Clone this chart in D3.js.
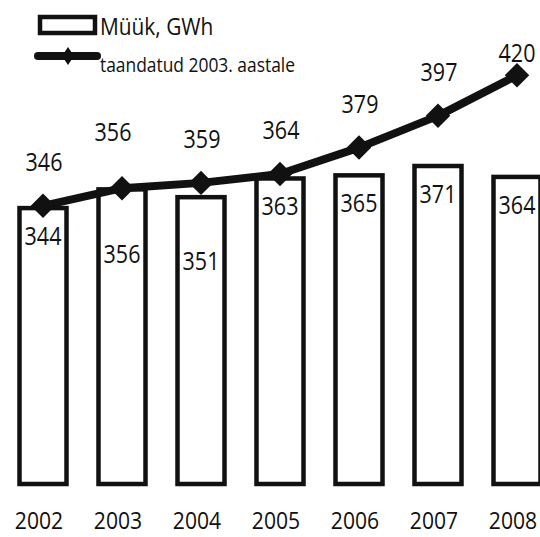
<!DOCTYPE html>
<html>
<head>
<meta charset="utf-8">
<script src="https://cdn.jsdelivr.net/npm/d3@7/dist/d3.min.js"></script>
<style>
  body { margin: 0; background: #fff; }
  svg { display: block; }
  text { font-family: "Open Sans", sans-serif; fill: #111; }
</style>
</head>
<body>
<svg id="chart" width="540" height="537"></svg>
<script>
// Electricity sales, GWh, and the same normalised to 2003 weather
const years = ["2002", "2003", "2004", "2005", "2006", "2007", "2008"];
const sales = [344, 356, 351, 363, 365, 371, 364];
const adjusted = [346, 356, 359, 364, 379, 397, 420];
const legendLabels = ["Müük, GWh", "taandatud 2003. aastale"];

const svg = d3.select("#chart");

// Scales (two hidden value axes, as in the original)
const x = d3.scaleBand()
    .domain(years)
    .range([19.5, 540.5])
    .paddingInner(0.405)
    .paddingOuter(0);

const yBar = d3.scaleLinear()
    .domain([167, 371])
    .range([484, 166]);

const yLine = d3.scaleLinear()
    .domain([346, 420])
    .range([205.8, 75.3]);

// Text helper: the scanned font is narrower than Open Sans
function addText(g, tx, ty, str, size, sx, anchor) {
    return g.append("text")
        .attr("transform", `translate(${tx},${ty}) scale(${sx},1)`)
        .attr("text-anchor", anchor || "middle")
        .attr("font-size", size + "px")
        .text(str);
}

// Bars
svg.append("g")
    .selectAll("rect")
    .data(years)
    .enter()
    .append("rect")
    .attr("x", d => x(d))
    .attr("y", (d, i) => yBar(sales[i]))
    .attr("width", x.bandwidth())
    .attr("height", (d, i) => yBar.range()[0] - yBar(sales[i]))
    .attr("fill", "#fff")
    .attr("stroke", "#111")
    .attr("stroke-width", 4.5);

// Line
const lineData = years.map((d, i) => ({year: d, value: adjusted[i]}));
const line = d3.line()
    .x(d => x(d.year) + x.bandwidth() / 2)
    .y(d => yLine(d.value));

svg.append("path")
    .datum(lineData)
    .attr("d", line)
    .attr("fill", "none")
    .attr("stroke", "#111")
    .attr("stroke-width", 8)
    .attr("stroke-linejoin", "round");

svg.append("g")
    .selectAll("path")
    .data(lineData)
    .enter()
    .append("path")
    .attr("d", d3.symbol(d3.symbolSquare, 300))
    .attr("transform", d => `translate(${x(d.year) + x.bandwidth() / 2},${yLine(d.value)}) rotate(45)`)
    .attr("fill", "#111");

// Value labels above the line points
const topShift = {"2003": [-9, -47], "2008": [0, -13]};
const topLabels = svg.append("g");
lineData.forEach(d => {
    const s = topShift[d.year] || [1, -35];
    addText(topLabels, x(d.year) + x.bandwidth() / 2 + s[0], yLine(d.value) + s[1], d.value, 25, 0.86);
});

// Value labels inside the bars
const barDrop = {"2003": 74, "2004": 73};
const barLabels = svg.append("g");
years.forEach((d, i) => {
    const drop = barDrop[d] || 37;
    addText(barLabels, x(d) + x.bandwidth() / 2, yBar(sales[i]) + drop, sales[i], 25, 0.86);
});

// Category labels
const xLabels = svg.append("g");
years.forEach(d => {
    addText(xLabels, x(d) + x.bandwidth() / 2 - 4, 529, d, 24, 0.88);
});

// Legend
const legend = svg.append("g");

legend.append("rect")
    .attr("x", 40)
    .attr("y", 17)
    .attr("width", 55)
    .attr("height", 16)
    .attr("fill", "#fff")
    .attr("stroke", "#111")
    .attr("stroke-width", 4.5);

addText(legend, 100, 35, legendLabels[0], 24, 0.87, "start");

legend.append("line")
    .attr("x1", 38)
    .attr("x2", 97)
    .attr("y1", 56)
    .attr("y2", 56)
    .attr("stroke", "#111")
    .attr("stroke-width", 8)
    .attr("stroke-linecap", "round");

legend.append("path")
    .attr("d", "M68,47 L74,56 L68,65 L62,56 Z")
    .attr("fill", "#111");

addText(legend, 100, 72, legendLabels[1], 20, 0.87, "start");
</script>
</body>
</html>
